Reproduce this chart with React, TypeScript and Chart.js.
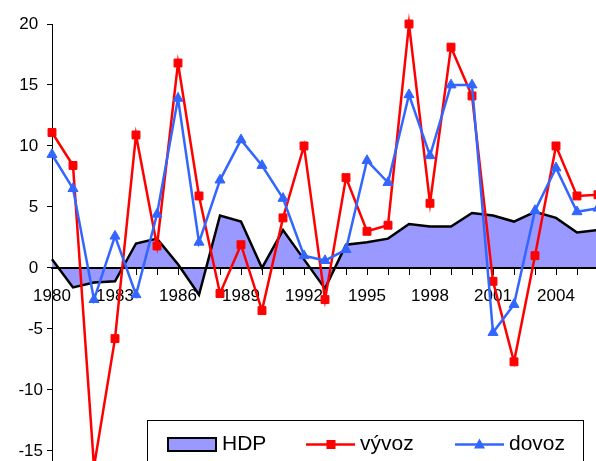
import React, { useEffect, useRef } from 'react';
import { Chart, registerables } from 'chart.js';

Chart.register(...registerables);

const years = [
  '1980', '1981', '1982', '1983', '1984', '1985', '1986', '1987', '1988', '1989',
  '1990', '1991', '1992', '1993', '1994', '1995', '1996', '1997', '1998', '1999',
  '2000', '2001', '2002', '2003', '2004', '2005', '2006',
];
const hdp = [0.7, -1.6, -1.2, -1.1, 2.0, 2.4, 0.3, -2.2, 4.3, 3.8, 0.0, 3.1, 0.7, -1.7, 1.9, 2.1, 2.4, 3.6, 3.4, 3.4, 4.5, 4.3, 3.8, 4.6, 4.1, 2.9, 3.1];
const vyvoz = [11.1, 8.4, -16.3, -5.8, 10.9, 1.8, 16.8, 5.9, -2.1, 1.9, -3.5, 4.1, 10.0, -2.6, 7.4, 3.0, 3.5, 20.0, 5.3, 18.1, 14.1, -1.1, -7.7, 1.0, 10.0, 5.9, 6.0];
const dovoz = [9.3, 6.5, -2.6, 2.6, -2.2, 4.4, 13.9, 2.1, 7.2, 10.5, 8.4, 5.7, 1.0, 0.6, 1.5, 8.8, 7.0, 14.2, 9.2, 15.0, 15.0, -5.3, -3.0, 4.7, 8.2, 4.6, 4.9];
const seriesNames = ['HDP', 'vývoz', 'dovoz'];

const FONT = '"Liberation Sans", Arial, sans-serif';
const RED = '#FF0000';
const BLUE = '#3366FF';
const PURPLE = '#9999FF';

export default function App() {
  const ref = useRef<HTMLCanvasElement>(null);

  useEffect(() => {
    const canvas = ref.current;
    if (!canvas) return;

    const zeroLine = {
      id: 'zeroLine',
      afterDatasetDraw(chart: any, args: any) {
        if (args.index !== 0) return;
        const { ctx, chartArea } = chart;
        const y = chart.scales.y.getPixelForValue(0);
        ctx.save();
        ctx.strokeStyle = '#000';
        ctx.lineWidth = 2;
        ctx.beginPath();
        ctx.moveTo(chartArea.left, y);
        ctx.lineTo(chartArea.right, y);
        ctx.stroke();
        ctx.restore();
      },
    };

    const legendBox = {
      id: 'legendBox',
      afterDraw(chart: any) {
        const ctx = chart.ctx as CanvasRenderingContext2D;
        const ds = chart.data.datasets;
        ctx.save();
        ctx.fillStyle = '#fff';
        ctx.fillRect(147, 421, 436, 80);
        ctx.strokeStyle = '#000';
        ctx.lineWidth = 1;
        ctx.strokeRect(147.5, 420.5, 436, 80);

        const cy = 444.5;
        ctx.font = `21px ${FONT}`;
        ctx.textBaseline = 'middle';
        ctx.textAlign = 'left';

        // HDP swatch
        ctx.fillStyle = PURPLE;
        ctx.fillRect(168, 438, 48, 13);
        ctx.strokeStyle = '#000';
        ctx.lineWidth = 2;
        ctx.strokeRect(168, 438, 48, 13);
        ctx.fillStyle = '#000';
        ctx.fillText(ds[0].label, 222, cy);

        // vývoz
        ctx.strokeStyle = RED;
        ctx.lineWidth = 2.5;
        ctx.beginPath();
        ctx.moveTo(306, cy);
        ctx.lineTo(355, cy);
        ctx.stroke();
        ctx.fillStyle = RED;
        ctx.fillRect(331 - 4.5, cy - 4.5, 9, 9);
        ctx.fillStyle = '#000';
        ctx.fillText(ds[1].label, 360, cy);

        // dovoz
        ctx.strokeStyle = BLUE;
        ctx.beginPath();
        ctx.moveTo(455, cy);
        ctx.lineTo(504, cy);
        ctx.stroke();
        ctx.fillStyle = BLUE;
        ctx.beginPath();
        ctx.moveTo(479.5, cy - 6);
        ctx.lineTo(485, cy + 4);
        ctx.lineTo(474, cy + 4);
        ctx.closePath();
        ctx.fill();
        ctx.fillStyle = '#000';
        ctx.fillText(ds[2].label, 509, cy);
        ctx.restore();
      },
    };

    const chart = new Chart(canvas, {
      type: 'line',
      data: {
        labels: years,
        datasets: [
          {
            label: seriesNames[0],
            data: hdp,
            order: 3,
            fill: 'origin',
            backgroundColor: PURPLE,
            borderColor: '#000',
            borderWidth: 2.5,
            pointRadius: 0,
            tension: 0,
            clip: false as any,
          },
          {
            label: seriesNames[1],
            data: vyvoz,
            order: 2,
            fill: false,
            borderColor: RED,
            backgroundColor: RED,
            borderWidth: 2.5,
            pointStyle: 'rect',
            pointRadius: 5.6,
            pointBorderWidth: 1,
            tension: 0,
            clip: false as any,
          },
          {
            label: seriesNames[2],
            data: dovoz,
            order: 1,
            fill: false,
            borderColor: BLUE,
            backgroundColor: BLUE,
            borderWidth: 2.5,
            pointStyle: 'triangle',
            pointRadius: 5.8,
            pointBorderWidth: 1,
            tension: 0,
            clip: false as any,
          },
        ],
      },
      options: {
        animation: false,
        responsive: false,
        maintainAspectRatio: false,
        layout: { padding: { left: 0, top: 24, right: 8, bottom: 10 } },
        plugins: {
          legend: { display: false },
          tooltip: { enabled: false },
        },
        scales: {
          x: {
            type: 'category',
            position: { y: 0 } as any,
            offset: false,
            grid: {
              display: true,
              drawOnChartArea: false,
              drawTicks: true,
              tickLength: 6,
              color: '#000',
              lineWidth: 1,
              offset: false,
            },
            border: { display: true, color: '#000', width: 2 },
            ticks: {
              autoSkip: false,
              maxRotation: 0,
              minRotation: 0,
              padding: 12,
              color: '#000',
              font: { family: FONT, size: 17 },
              callback: (_v: any, i: number) => (i % 3 === 0 ? years[i] : ''),
            },
          },
          y: {
            min: -20,
            max: 20,
            afterFit: (s: any) => {
              s.width = 52;
            },
            grid: {
              display: true,
              drawOnChartArea: false,
              drawTicks: true,
              tickLength: 5,
              color: '#000',
            },
            border: { display: true, color: '#000', width: 1 },
            ticks: {
              stepSize: 5,
              padding: 4,
              color: '#000',
              font: { family: FONT, size: 17 },
              callback: (v: any) => (Number(v) >= 0 ? `${v} ` : `${v}`),
            },
          },
        },
      },
      plugins: [zeroLine, legendBox],
    });

    return () => chart.destroy();
  }, []);

  return (
    <div
      style={{
        position: 'fixed',
        left: 0,
        top: 0,
        width: 596,
        height: 461,
        overflow: 'hidden',
        background: '#fff',
      }}
    >
      <canvas ref={ref} width={610} height={526} style={{ display: 'block', width: 610, height: 526 }} />
    </div>
  );
}
